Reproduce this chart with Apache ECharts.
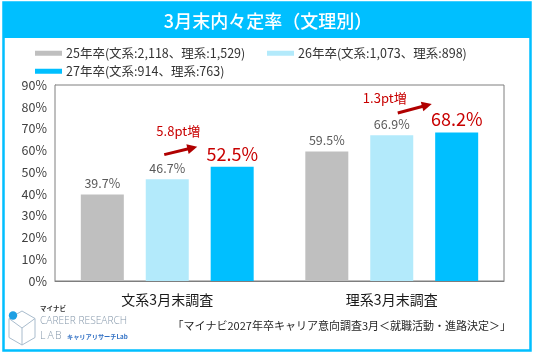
<!DOCTYPE html>
<html><head><meta charset="utf-8">
<script src="https://cdn.jsdelivr.net/npm/echarts@6/dist/echarts.min.js"></script>
<style>html,body{margin:0;padding:0;background:#fff}#c{width:536px;height:358px}</style>
</head><body><div id="c"></div>
<script>
const titleText = '3月末内々定率（文理別）';
const categories = ['文系3月末調査', '理系3月末調査'];
const seriesNames = ['25年卒(文系:2,118、理系:1,529)', '26年卒(文系:1,073、理系:898)', '27年卒(文系:914、理系:763)'];
const values25 = [39.7, 59.5];
const values26 = [46.7, 66.9];
const values27 = [52.5, 68.2];
const increaseLabels = ['5.8pt増', '1.3pt増'];
const yMin = 0, yMax = 90, yStep = 10;
const sourceText = '「マイナビ2027年卒キャリア意向調査3月＜就職活動・進路決定＞」';

const FONT = '"Noto Sans CJK JP", "Noto Sans", sans-serif';
const colors = ['#BFBFBF', '#B3EAFB', '#00BFFF'];
const RED = '#C80000';

const chart = echarts.init(document.getElementById('c'), null, {renderer: 'canvas'});

function legendFor(i, left, top) {
  return {
    data: [seriesNames[i]], left: left, top: top, orient: 'horizontal',
    icon: 'rect', itemWidth: 27, itemHeight: 5, itemGap: 0, padding: 0,
    selectedMode: false,
    textStyle: {fontFamily: FONT, fontSize: 12.5, color: '#333333', padding: [0, 0, 0, -1]}
  };
}

const labelNormal = {show: true, position: 'top', distance: 5, fontFamily: FONT, fontSize: 12.5, color: '#595959', formatter: p => p.value.toFixed(1) + '%'};
const labelBig = {show: true, position: 'top', distance: 4, fontFamily: FONT, fontSize: 18, color: RED, formatter: p => p.value.toFixed(1) + '%'};

const LOGO = '#8497AA';
const baseGraphic = [
  {type: 'rect', z: 0, shape: {x: 3.5, y: 2.5, width: 527, height: 348}, style: {fill: '#fff', stroke: '#00BFFF', lineWidth: 2.5}},
  {type: 'rect', z: 0, shape: {x: 3, y: 2, width: 528, height: 36}, style: {fill: '#00BFFF'}},
  // logo
  {type: 'polygon', z: 1, shape: {points: [[22,311],[35,318.5],[35,337.5],[22,345],[9,337.5],[9,318.5]]}, style: {fill: 'none', stroke: '#A9BCCD', lineWidth: 1}},
  {type: 'polyline', z: 1, shape: {points: [[9,318.5],[22,328],[35,318.5]]}, style: {fill: 'none', stroke: '#A9BCCD', lineWidth: 1}},
  {type: 'line', z: 1, shape: {x1: 22, y1: 328, x2: 22, y2: 345}, style: {stroke: '#A9BCCD', lineWidth: 1}},
  {type: 'circle', z: 2, shape: {cx: 13, cy: 315.5, r: 4.2}, style: {fill: '#1E9FE3'}},
  {type: 'text', z: 2, left: 40, top: 305, style: {text: 'マイナビ', fontFamily: FONT, fontSize: 6.5, fontWeight: 'bold', fill: '#333'}},
  {type: 'text', z: 2, left: 40, top: 316, style: {text: 'CAREER RESEARCH', fontFamily: '"Open Sans", sans-serif', fontSize: 10.2, fontWeight: 300, fill: LOGO}},
  {type: 'text', z: 2, left: 40, top: 331, style: {text: 'L', fontFamily: '"Open Sans", sans-serif', fontSize: 10.5, fontWeight: 300, fill: LOGO}},
  {type: 'text', z: 2, left: 47.5, top: 331, style: {text: 'A', fontFamily: '"Open Sans", sans-serif', fontSize: 10.5, fontWeight: 300, fill: LOGO}},
  {type: 'text', z: 2, left: 55, top: 331, style: {text: 'B', fontFamily: '"Open Sans", sans-serif', fontSize: 10.5, fontWeight: 300, fill: LOGO}},
  {type: 'text', z: 2, left: 67, top: 333.5, style: {text: 'キャリアリサーチLab', fontFamily: FONT, fontSize: 6.2, fontWeight: 'bold', fill: '#2F6FC4'}},
  {type: 'text', z: 2, right: 25, top: 320, style: {text: sourceText, fontFamily: FONT, fontSize: 11, fill: '#262626'}}
];

chart.setOption({
  animation: false,
  backgroundColor: '#fff',
  title: {text: titleText, left: 'center', top: 7, z: 10, textStyle: {fontFamily: FONT, fontSize: 18, fontWeight: 500, color: '#fff'}},
  legend: [legendFor(0, 35, 47), legendFor(1, 267, 47), legendFor(2, 35, 65)],
  grid: {left: 55, right: 32, top: 85, bottom: 77, show: true, borderColor: '#7F7F7F', borderWidth: 1, backgroundColor: '#fff', z: 3},
  xAxis: {
    type: 'category', data: categories,
    axisLine: {lineStyle: {color: '#7F7F7F', width: 1}},
    axisTick: {show: false},
    axisLabel: {fontFamily: FONT, fontSize: 14, color: '#1a1a1a', margin: 12}
  },
  yAxis: {
    type: 'value', min: yMin, max: yMax, interval: yStep,
    axisLine: {show: true, lineStyle: {color: '#7F7F7F'}},
    axisTick: {show: false},
    splitLine: {lineStyle: {color: '#DDDDDD', width: 1}},
    axisLabel: {fontFamily: FONT, fontSize: 12.5, color: '#404040', margin: 8, formatter: '{value}%'}
  },
  series: [
    {name: seriesNames[0], type: 'bar', data: values25, barWidth: 43, barGap: '51%', itemStyle: {color: colors[0]}, label: labelNormal, z: 4},
    {name: seriesNames[1], type: 'bar', data: values26, barWidth: 43, barGap: '51%', itemStyle: {color: colors[1]}, label: labelNormal, z: 4},
    {name: seriesNames[2], type: 'bar', data: values27, barWidth: 43, barGap: '51%', itemStyle: {color: colors[2]}, label: labelBig, z: 4}
  ],
  graphic: baseGraphic
});

// annotations anchored to the 27年卒 value of each category
const annoOffsets = [
  {text: [11, -36], from: [-3, -12], to: [30, -20]},
  {text: [-7, -34.5], from: [6, -19.5], to: [40, -28.5]}
];
const extra = [];
values27.forEach((v, i) => {
  const p = chart.convertToPixel({gridIndex: 0}, [i, v]);
  const o = annoOffsets[i];
  extra.push({type: 'text', z: 20, x: p[0] + o.text[0], y: p[1] + o.text[1],
    style: {text: increaseLabels[i], fontFamily: FONT, fontSize: 13, fill: RED, align: 'center', verticalAlign: 'middle'}});
  const x1 = p[0] + o.from[0], y1 = p[1] + o.from[1];
  const x2 = p[0] + o.to[0], y2 = p[1] + o.to[1];
  const dx = x2 - x1, dy = y2 - y1, L = Math.hypot(dx, dy);
  const ux = dx / L, uy = dy / L, nx = -uy, ny = ux;
  const hl = 10, hw = 5;
  const bx = x2 - ux * hl, by = y2 - uy * hl;
  extra.push({type: 'line', z: 20, shape: {x1: x1, y1: y1, x2: bx + ux, y2: by + uy}, style: {stroke: '#B00000', lineWidth: 3}});
  extra.push({type: 'polygon', z: 20, shape: {points: [[x2, y2], [bx + nx * hw, by + ny * hw], [bx - nx * hw, by - ny * hw]]}, style: {fill: '#B00000'}});
});
chart.setOption({graphic: baseGraphic.concat(extra)}, {replaceMerge: ['graphic']});
</script>
</body></html>
